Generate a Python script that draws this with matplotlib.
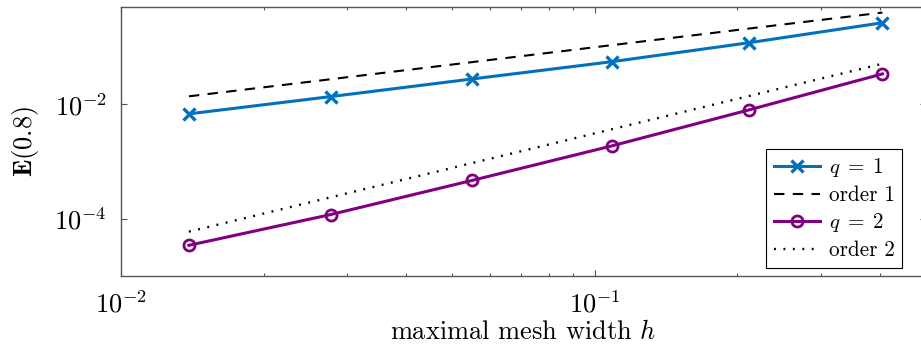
import matplotlib
matplotlib.use("Agg")
import matplotlib.pyplot as plt
from matplotlib.ticker import LogLocator, NullLocator

#--Data--
h = [0.01391, 0.02769, 0.05509, 0.1088, 0.2116, 0.4046]
err_q1 = [6.78e-3, 1.355e-2, 2.75e-2, 5.51e-2, 0.1178, 0.2625]
err_q2 = [3.47e-5, 1.19e-4, 4.69e-4, 1.88e-3, 7.96e-3, 3.37e-2]
order1 = [0.0137, 0.0272, 0.0541, 0.107, 0.208, 0.395]
order2 = [6.0e-5, 2.38e-4, 9.41e-4, 3.67e-3, 1.388e-2, 5.07e-2]
labels = [r'$q\;=\;1$', 'order 1', r'$q\;=\;2$', 'order 2']

#--Style--
plt.rcParams['font.family'] = 'serif'
plt.rcParams['font.serif'] = ['cmr10', 'DejaVu Serif']
plt.rcParams['mathtext.fontset'] = 'cm'
plt.rcParams['axes.formatter.use_mathtext'] = True
plt.rcParams['axes.unicode_minus'] = True

blue = '#0072BD'
purple = '#800080'
spine = '#555555'

fig = plt.figure(figsize=(9.21, 3.47), dpi=100)
#axes right edge sits just past the figure edge, like the reference crop
ax = fig.add_axes([121/921, 1-276.3/347, 805/921, 269.6/347])

ax.plot(h, err_q1, color=blue, lw=2.2, marker='x', ms=9, mew=2.4, label=labels[0])
ax.plot(h, order1, color='black', lw=1.5, ls=(0, (5, 4)), label=labels[1])
ax.plot(h, err_q2, color=purple, lw=2.2, marker='o', ms=8, mew=2.0, mfc='none', label=labels[2])
ax.plot(h, order2, color='black', lw=1.7, ls=(0, (0.8, 3.2)), label=labels[3])

ax.set_xscale('log')
ax.set_yscale('log')
ax.set_xlim(1e-2, 0.5)
ax.set_ylim(1e-5, 0.5)

ax.xaxis.set_major_locator(LogLocator(base=10))
ax.xaxis.set_minor_locator(LogLocator(base=10, subs=range(2, 10)))
ax.set_yticks([1e-4, 1e-2])
ax.yaxis.set_minor_locator(NullLocator())

ax.tick_params(which='both', direction='in', top=True, right=True, color=spine, labelsize=19)
ax.tick_params(which='major', length=4.3, width=0.8, pad=10)
ax.tick_params(which='minor', length=2.5, width=0.8)
for s in ax.spines.values():
    s.set_color(spine)
    s.set_linewidth(1.0)

ax.set_xlabel('maximal mesh width $h$', fontsize=19, labelpad=2)
ax.set_ylabel(r'$\mathbf{E}(0.8)$', fontsize=19, labelpad=10)

leg = ax.legend(loc='lower right', bbox_to_anchor=(0.970, 0.032), borderaxespad=0,
                fontsize=15.2, fancybox=False, framealpha=1, edgecolor='black',
                handlelength=2.2, handletextpad=0.4, labelspacing=0.3, borderpad=0.35)
leg.get_frame().set_linewidth(0.8)

fig.savefig('out.png', dpi=100)
